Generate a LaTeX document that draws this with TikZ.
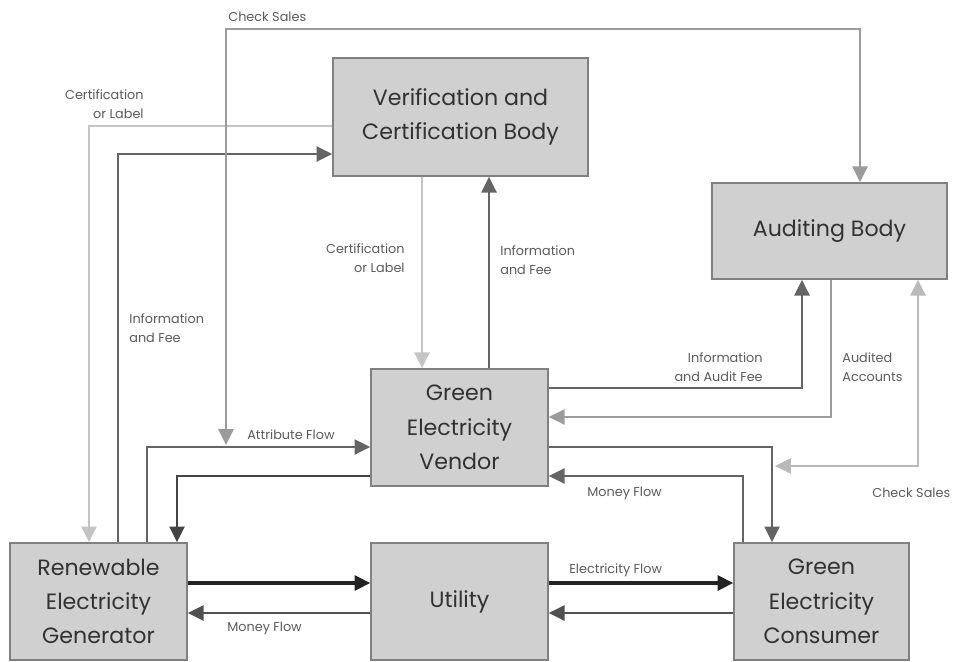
\documentclass[tikz,border=0pt]{standalone}
\usepackage{fontspec}
\setmainfont{Poppins}
\usetikzlibrary{arrows.meta}

\definecolor{boxfill}{RGB}{208,208,209}
\definecolor{boxline}{RGB}{128,128,128}
\definecolor{boxtext}{RGB}{50,50,50}
\definecolor{lbltext}{RGB}{90,90,90}
\definecolor{blackflow}{RGB}{35,35,35}
\definecolor{darkflow}{RGB}{100,100,100}
\definecolor{medflow}{RGB}{155,155,155}
\definecolor{lightflow}{RGB}{196,196,196}

\tikzset{
  box/.style={draw=boxline, fill=boxfill, line width=0.8pt, align=center,
    text=boxtext, inner sep=0pt, font=\fontsize{12.6}{19.5}\selectfont},
  flow/.style={line width=1.6pt, darkflow, -{Triangle[length=9pt,width=8.5pt]}},
  lbl/.style={text=lbltext, inner sep=0pt, font=\fontsize{7.3}{11}\selectfont},
}

\begin{document}
\begin{tikzpicture}[x=0.02cm,y=-0.02cm]
  \useasboundingbox (0,0) rectangle (966,662);
  % boxes
  \node[box, minimum width=5.1cm, minimum height=2.36cm] (vcb) at (460.5,117)
    {Verification and\\Certification Body};
  \node[box, minimum width=4.7cm, minimum height=1.92cm] (aud) at (829.5,231)
    {Auditing Body};
  \node[box, minimum width=3.54cm, minimum height=2.34cm] (gev) at (459.5,427.5)
    {Green\\Electricity\\Vendor};
  \node[box, minimum width=3.54cm, minimum height=2.34cm] (ren) at (98.5,601.5)
    {Renewable\\Electricity\\Generator};
  \node[box, minimum width=3.54cm, minimum height=2.34cm] (uti) at (459.5,601.5)
    {Utility};
  \node[box, minimum width=3.5cm, minimum height=2.34cm] (con) at (821.5,601.5)
    {Green\\Electricity\\Consumer};

  % free ends of the check sales lines
  \coordinate (csl) at (226,445);
  \coordinate (csr) at (775,466);

  % certification and information
  \draw[flow, lightflow] (vcb.west |- 0,126) -| (ren.north -| 89,0);
  \draw[flow] (ren.north -| 118,0) |- (vcb.west |- 0,154);
  \draw[flow, lightflow] (vcb.south -| 422,0) -- (gev.north -| 422,0);
  \draw[flow] (gev.north -| 489,0) -- (vcb.south -| 489,0);
  % auditing
  \draw[flow, medflow, {Triangle[length=9pt,width=8.5pt]}-{Triangle[length=9pt,width=8.5pt]}]
    (csl) |- (860,29) -- (aud.north -| 860,0);
  \draw[flow] (gev.east |- 0,388) -| (aud.south -| 802,0);
  \draw[flow, medflow] (aud.south -| 831,0) |- (gev.east |- 0,417);
  \draw[flow, lightflow!85!gray, {Triangle[length=9pt,width=8.5pt]}-{Triangle[length=9pt,width=8.5pt]}]
    (aud.south -| 918,0) |- (csr);
  % vendor flows
  \draw[flow] (ren.north -| 147,0) |- (gev.west |- 0,447);
  \draw[flow, blackflow!85!white] (gev.west |- 0,476) -| (ren.north -| 177,0);
  \draw[flow] (gev.east |- 0,447) -| (con.north -| 772,0);
  \draw[flow] (con.north -| 743,0) |- (gev.east |- 0,476);
  % electricity and money
  \draw[flow, blackflow, line width=2pt] (ren.east |- 0,583) -- (uti.west |- 0,583);
  \draw[flow, darkflow!80!black] (uti.west |- 0,613) -- (ren.east |- 0,613);
  \draw[flow, blackflow, line width=2pt] (uti.east |- 0,583) -- (con.west |- 0,583);
  \draw[flow, darkflow!80!black] (con.west |- 0,613) -- (uti.east |- 0,613);

  % labels
  \node[lbl, anchor=west] (lcs1) at (228,17) {Check Sales};
  \node[lbl, anchor=east, align=right] (lcert1) at (144,104) {Certification\\or Label};
  \node[lbl, anchor=west, align=left] (linfo1) at (129,328) {Information\\and Fee};
  \node[lbl, anchor=east, align=right] (lcert2) at (405,258) {Certification\\or Label};
  \node[lbl, anchor=west, align=left] (linfo2) at (500,260) {Information\\and Fee};
  \node[lbl, anchor=east, align=right] (laudfee) at (763,367) {Information\\and Audit Fee};
  \node[lbl, anchor=west, align=left] (laudacc) at (842,367) {Audited\\Accounts};
  \node[lbl, anchor=west] (lattr) at (247,435) {Attribute Flow};
  \node[lbl, anchor=west] (lmoney1) at (587,493) {Money Flow};
  \node[lbl, anchor=west] (lcs2) at (872,493) {Check Sales};
  \node[lbl, anchor=west] (lelec) at (569,570) {Electricity Flow};
  \node[lbl, anchor=west] (lmoney2) at (227,628) {Money Flow};
\end{tikzpicture}
\end{document}
